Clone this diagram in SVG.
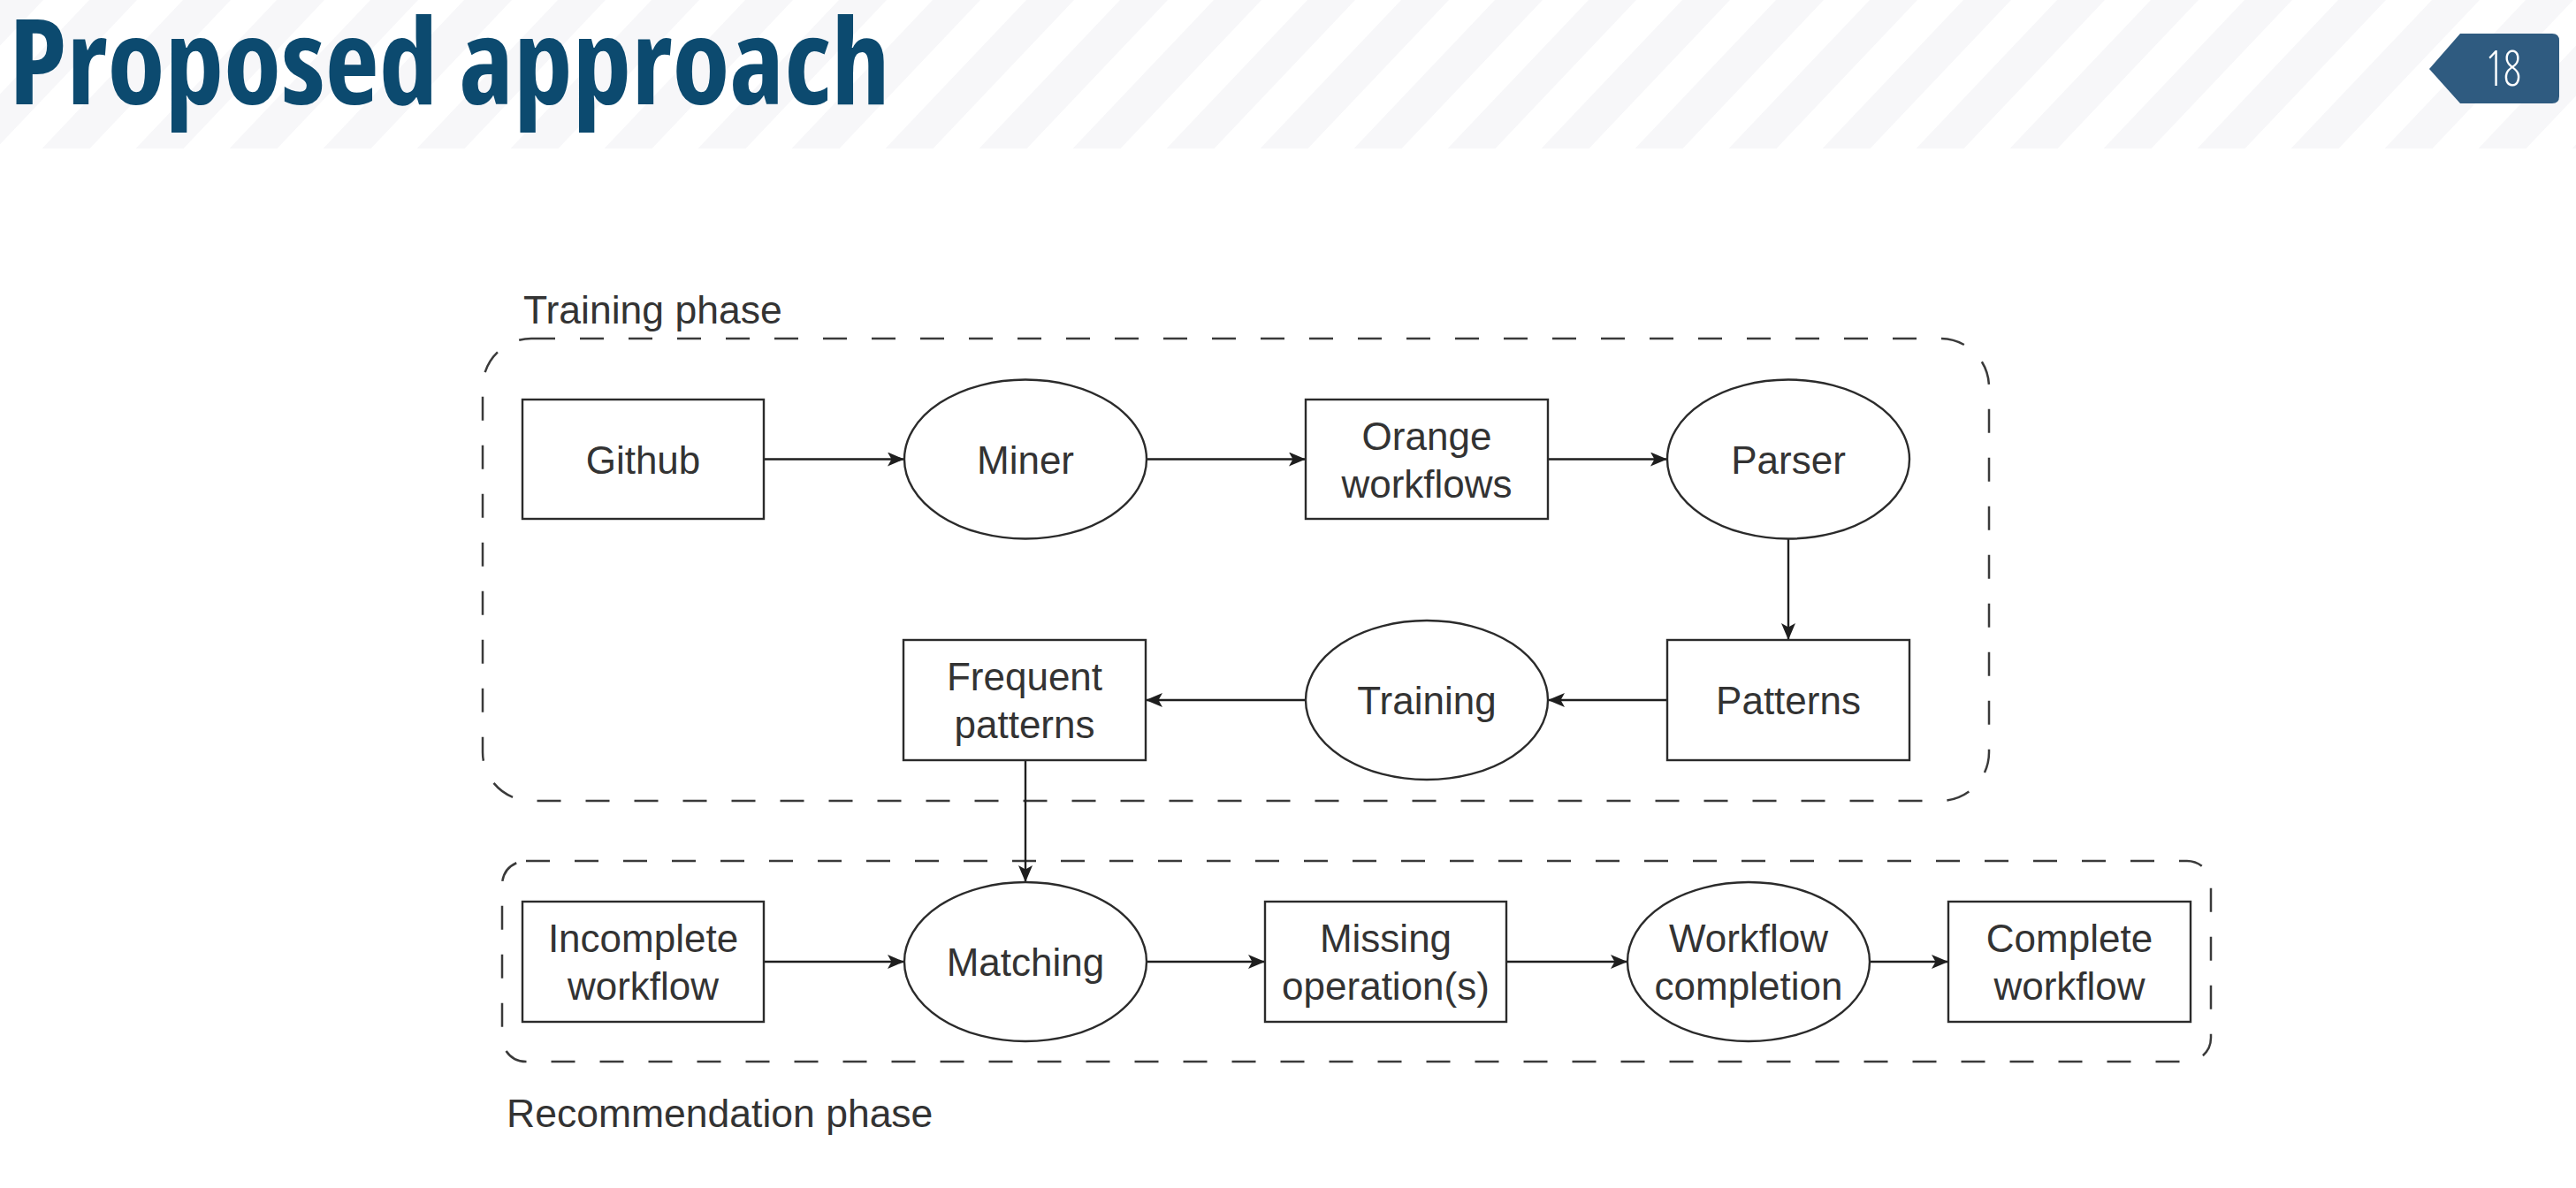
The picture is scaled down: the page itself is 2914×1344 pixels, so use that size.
<svg xmlns="http://www.w3.org/2000/svg" width="2914" height="1344" viewBox="0 0 2914 1344">
  <defs>
    <pattern id="stripes" patternUnits="userSpaceOnUse" x="-5" y="0" width="106" height="168" patternTransform="skewX(-43.5)">
      <rect x="0" y="0" width="54" height="168" fill="#f7f7f9"/>
    </pattern>
    <marker id="arrow" viewBox="0 0 19 16" refX="19" refY="8" markerWidth="19" markerHeight="16" markerUnits="userSpaceOnUse" orient="auto">
      <path d="M0,0 L19,8 L0,16 L4.5,8 Z" fill="#1e1e1e"/>
    </marker>
    <style>
      .box { fill: #ffffff; stroke: #2b2b2b; stroke-width: 2.4; }
      .group { fill: none; stroke: #3a3a3a; stroke-width: 2.5; stroke-dasharray: 27 28; }
      .edge { fill: none; stroke: #1e1e1e; stroke-width: 2.4; marker-end: url(#arrow); }
      .lbl { font-family: "Liberation Sans", Arial, sans-serif; font-size: 44px; fill: #333333; text-anchor: middle; }
      .phase { font-family: "Liberation Sans", Arial, sans-serif; font-size: 44.5px; fill: #333333; }
    </style>
  </defs>

  <rect x="0" y="0" width="2914" height="1344" fill="#ffffff"/>
  <g id="header">
    <rect x="0" y="0" width="2914" height="168" fill="url(#stripes)"/>
    <text x="10" y="118" font-family="'Open Sans', 'DejaVu Sans Condensed', sans-serif" font-weight="700" font-stretch="75%" font-size="134" fill="#0c4a6f" textLength="997" lengthAdjust="spacingAndGlyphs">Proposed approach</text>
    <path d="M2748,78 L2783,38 L2887,38 Q2895,38 2895,46 L2895,109 Q2895,117 2887,117 L2783,117 Z" fill="#2f5b80"/>
    <text x="2832" y="97" font-family="'Open Sans', 'DejaVu Sans', sans-serif" font-weight="300" font-stretch="75%" font-size="56" fill="#ffffff" text-anchor="middle" textLength="40" lengthAdjust="spacingAndGlyphs">18</text>
  </g>

  <g id="training-phase">
    <rect class="group" x="546" y="383" width="1704" height="523" rx="55" ry="55"/>
    <text class="phase" x="592" y="366">Training phase</text>
  </g>
  <g id="recommendation-phase">
    <rect class="group" x="568" y="974" width="1933" height="227" rx="27" ry="27"/>
    <text class="phase" x="573" y="1275">Recommendation phase</text>
  </g>

  <g id="connectors">
    <line class="edge" x1="864" y1="519.5" x2="1023" y2="519.5"/>
    <line class="edge" x1="1297" y1="519.5" x2="1477" y2="519.5"/>
    <line class="edge" x1="1751" y1="519.5" x2="1886" y2="519.5"/>
    <line class="edge" x1="2023" y1="610" x2="2023" y2="724"/>
    <line class="edge" x1="1886" y1="792" x2="1751" y2="792"/>
    <line class="edge" x1="1477" y1="792" x2="1296" y2="792"/>
    <line class="edge" x1="1160" y1="860" x2="1160" y2="998"/>
    <line class="edge" x1="864" y1="1088" x2="1023" y2="1088"/>
    <line class="edge" x1="1297" y1="1088" x2="1431" y2="1088"/>
    <line class="edge" x1="1704" y1="1088" x2="1841" y2="1088"/>
    <line class="edge" x1="2115" y1="1088" x2="2204" y2="1088"/>
  </g>

  <g id="github">
    <rect class="box" x="591" y="452" width="273" height="135"/>
    <text class="lbl" x="727.5" y="535.5">Github</text>
  </g>
  <g id="miner">
    <ellipse class="box" cx="1160" cy="519.5" rx="137" ry="90"/>
    <text class="lbl" x="1160" y="535.5">Miner</text>
  </g>
  <g id="orange-workflows">
    <rect class="box" x="1477" y="452" width="274" height="135"/>
    <text class="lbl" x="1614" y="508.5">Orange</text>
    <text class="lbl" x="1614" y="562.5">workflows</text>
  </g>
  <g id="parser">
    <ellipse class="box" cx="2023" cy="519.5" rx="137" ry="90"/>
    <text class="lbl" x="2023" y="535.5">Parser</text>
  </g>
  <g id="patterns">
    <rect class="box" x="1886" y="724" width="274" height="136"/>
    <text class="lbl" x="2023" y="808">Patterns</text>
  </g>
  <g id="training">
    <ellipse class="box" cx="1614" cy="792" rx="137" ry="90"/>
    <text class="lbl" x="1614" y="808">Training</text>
  </g>
  <g id="frequent-patterns">
    <rect class="box" x="1022" y="724" width="274" height="136"/>
    <text class="lbl" x="1159" y="781">Frequent</text>
    <text class="lbl" x="1159" y="835">patterns</text>
  </g>
  <g id="incomplete-workflow">
    <rect class="box" x="591" y="1020" width="273" height="136"/>
    <text class="lbl" x="727.5" y="1077">Incomplete</text>
    <text class="lbl" x="727.5" y="1131">workflow</text>
  </g>
  <g id="matching">
    <ellipse class="box" cx="1160" cy="1088" rx="137" ry="90"/>
    <text class="lbl" x="1160" y="1104">Matching</text>
  </g>
  <g id="missing-operations">
    <rect class="box" x="1431" y="1020" width="273" height="136"/>
    <text class="lbl" x="1567.5" y="1077">Missing</text>
    <text class="lbl" x="1567.5" y="1131">operation(s)</text>
  </g>
  <g id="workflow-completion">
    <ellipse class="box" cx="1978" cy="1088" rx="137" ry="90"/>
    <text class="lbl" x="1978" y="1077">Workflow</text>
    <text class="lbl" x="1978" y="1131">completion</text>
  </g>
  <g id="complete-workflow">
    <rect class="box" x="2204" y="1020" width="274" height="136"/>
    <text class="lbl" x="2341" y="1077">Complete</text>
    <text class="lbl" x="2341" y="1131">workflow</text>
  </g>
</svg>
